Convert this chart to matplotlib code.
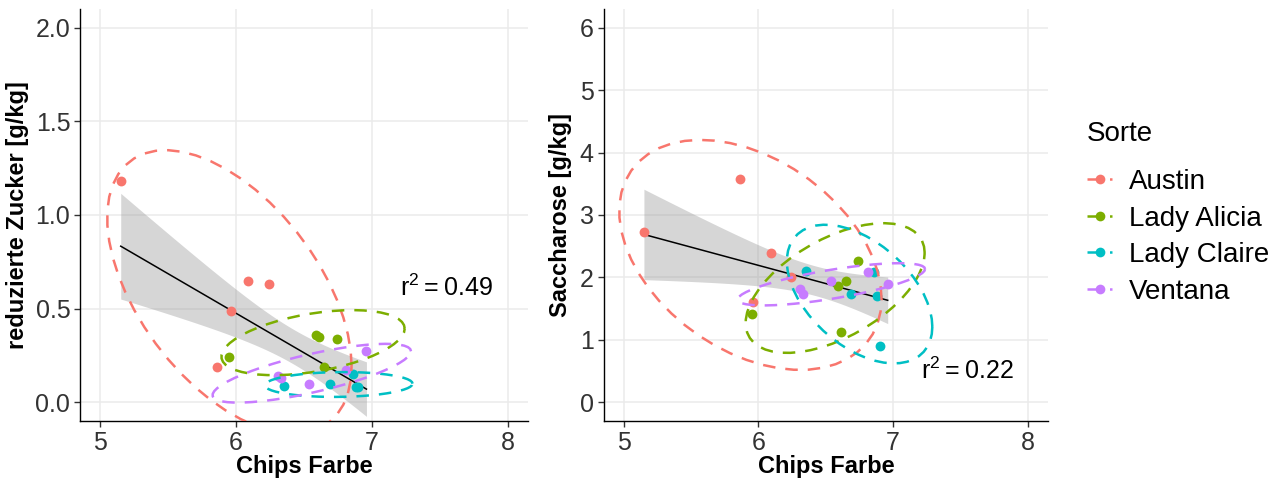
import math
import numpy as np
import matplotlib
matplotlib.use("Agg")
import matplotlib.pyplot as plt
from matplotlib.lines import Line2D

plt.rcParams["font.family"] = ["Liberation Sans", "DejaVu Sans"]

sorten = ["Austin", "Lady Alicia", "Lady Claire", "Ventana"]
farben = ["#F8766D", "#7CAE00", "#00BFC4", "#C77CFF"]

# one row per sample
sorte = (["Austin"] * 5 + ["Lady Alicia"] * 5 + ["Lady Claire"] * 5
         + ["Ventana"] * 5)
chips_farbe = [5.15, 5.86, 5.96, 6.09, 6.24,
               5.95, 6.59, 6.61, 6.65, 6.74,
               6.35, 6.69, 6.86, 6.88, 6.90,
               6.31, 6.33, 6.54, 6.81, 6.96]
red_zucker = [1.18, 0.19, 0.49, 0.65, 0.63,
              0.24, 0.36, 0.35, 0.19, 0.34,
              0.085, 0.10, 0.15, 0.08, 0.08,
              0.14, 0.13, 0.10, 0.17, 0.275]
saccharose = [2.72, 3.57, 1.61, 2.39, 2.01,
              1.42, 1.87, 1.12, 1.94, 2.26,
              2.11, 1.74, 2.085, 1.71, 0.90,
              1.82, 1.74, 1.94, 2.085, 1.89]

x_ticks = [5, 6, 7, 8]
y_ticks_links = [0.0, 0.5, 1.0, 1.5, 2.0]
y_ticks_rechts = [0, 1, 2, 3, 4, 5, 6]
r2_texte = ["0.49", "0.22"]

ELL_LEVEL = 0.9
DASH = (5, 4)


def t_quantile(p, df):
    xs = np.linspace(0, 12, 24001)
    c = math.gamma((df + 1) / 2) / (math.sqrt(df * math.pi) * math.gamma(df / 2))
    pdf = c * (1 + xs ** 2 / df) ** (-(df + 1) / 2)
    cdf = 0.5 + np.concatenate([[0], np.cumsum((pdf[1:] + pdf[:-1]) / 2 * np.diff(xs))])
    return np.interp(p, cdf, xs)


def cov_trob(X, nu=5, maxit=25, tol=0.01):
    # robust t covariance, same iteration as MASS::cov.trob
    n, p = X.shape
    wt = np.ones(n)
    loc = X.mean(axis=0)
    w = np.sqrt(wt)
    for _ in range(maxit):
        w0 = w
        Xc = X - loc
        _, d, vt = np.linalg.svd(np.sqrt(w / w.sum())[:, None] * Xc, full_matrices=False)
        wX = Xc @ vt.T @ np.diag(1 / d)
        Q = (wX ** 2).sum(axis=1)
        w = wt * (nu + p) / (nu + Q)
        loc = (w[:, None] * X).sum(axis=0) / w.sum()
        if np.all(np.abs(w - w0) < tol):
            break
    sX = np.sqrt(w)[:, None] * Xc
    return sX.T @ sX / wt.sum(), loc


def ellipse(x, y, level=ELL_LEVEL, segments=51):
    X = np.column_stack([x, y])
    cov, center = cov_trob(X)
    dfd = len(x) - 1
    qf = dfd / 2 * ((1 - level) ** (-2 / dfd) - 1)
    radius = math.sqrt(2 * qf)
    ang = np.arange(segments + 1) * 2 * np.pi / segments
    circle = np.column_stack([np.cos(ang), np.sin(ang)])
    chol = np.linalg.cholesky(cov).T
    return center + radius * circle @ chol


def panel(ax, yvals, yticks, ylim, r2, r2_pos):
    x = np.array(chips_farbe)
    y = np.array(yvals)
    grp = np.array(sorte)

    # lm fit with 95% confidence band
    n = len(x)
    b, a = np.polyfit(x, y, 1)
    xs = np.linspace(x.min(), x.max(), 80)
    fit = a + b * xs
    resid = y - (a + b * x)
    s = math.sqrt((resid ** 2).sum() / (n - 2))
    sxx = ((x - x.mean()) ** 2).sum()
    se = s * np.sqrt(1 / n + (xs - x.mean()) ** 2 / sxx)
    t = t_quantile(0.975, n - 2)
    ax.fill_between(xs, fit - t * se, fit + t * se, color="#999999", alpha=0.4,
                    linewidth=0, zorder=1)
    ax.plot(xs, fit, color="black", lw=1.1, zorder=2)

    for name, col in zip(sorten, farben):
        m = grp == name
        ax.scatter(x[m], y[m], s=50, color=col, linewidths=0, zorder=3)
        e = ellipse(x[m], y[m])
        ax.plot(e[:, 0], e[:, 1], color=col, lw=1.8, dashes=DASH, zorder=4)

    ax.text(r2_pos[0], r2_pos[1], r"$\mathregular{r^2 = %s}$" % r2,
            ha="center", va="center", fontsize=18, color="black")

    ax.set_xlim(4.85, 8.15)
    ax.set_ylim(*ylim)
    ax.set_xticks(x_ticks)
    ax.set_yticks(yticks)
    if isinstance(yticks[0], float):
        ax.set_yticklabels(["%.1f" % v for v in yticks])
    ax.grid(True, color="#EBEBEB", lw=1.1)
    ax.set_axisbelow(True)
    for sp in ["top", "right"]:
        ax.spines[sp].set_visible(False)
    for sp in ["left", "bottom"]:
        ax.spines[sp].set_color("black")
        ax.spines[sp].set_linewidth(1.0)
    ax.tick_params(labelsize=18, labelcolor="#333333", color="#333333",
                   length=4, width=1.0, pad=3)


W, H = 1277, 482
fig = plt.figure(figsize=(W / 100, H / 100), dpi=100)
ax1 = fig.add_axes([80 / W, 1 - 421 / H, 448 / W, 412 / H])
ax2 = fig.add_axes([603.5 / W, 1 - 421 / H, 444.5 / W, 412 / H])

panel(ax1, red_zucker, y_ticks_links, (-0.1, 2.1), r2_texte[0], (7.55, 0.61))
panel(ax2, saccharose, y_ticks_rechts, (-0.3, 6.3), r2_texte[1], (7.55, 0.5))

fig.text(18 / W, 1 - 215 / H, "reduzierte Zucker [g/kg]", rotation=90,
         ha="center", va="center", fontsize=17, fontweight="bold")
fig.text(560 / W, 1 - 215 / H, "Saccharose [g/kg]", rotation=90,
         ha="center", va="center", fontsize=17, fontweight="bold")
fig.text(304 / W, 1 - 467 / H, "Chips Farbe", ha="center", va="center",
         fontsize=17, fontweight="bold")
fig.text(826 / W, 1 - 467 / H, "Chips Farbe", ha="center", va="center",
         fontsize=17, fontweight="bold")

# legend
fig.text(1087 / W, 1 - 134 / H, "Sorte", ha="left", va="center", fontsize=20)
handles = [Line2D([0], [0], color=c, lw=1.8, dashes=DASH, marker="o",
                  markersize=7, markeredgewidth=0) for c in farben]
fig.legend(handles, sorten, loc="upper left",
           bbox_to_anchor=(1087 / W, 1 - 169 / H), frameon=False,
           fontsize=20, handlelength=0.9, handletextpad=0.6,
           labelspacing=0.38, borderpad=0.0, borderaxespad=0.0)

fig.savefig("out.png", dpi=100)
